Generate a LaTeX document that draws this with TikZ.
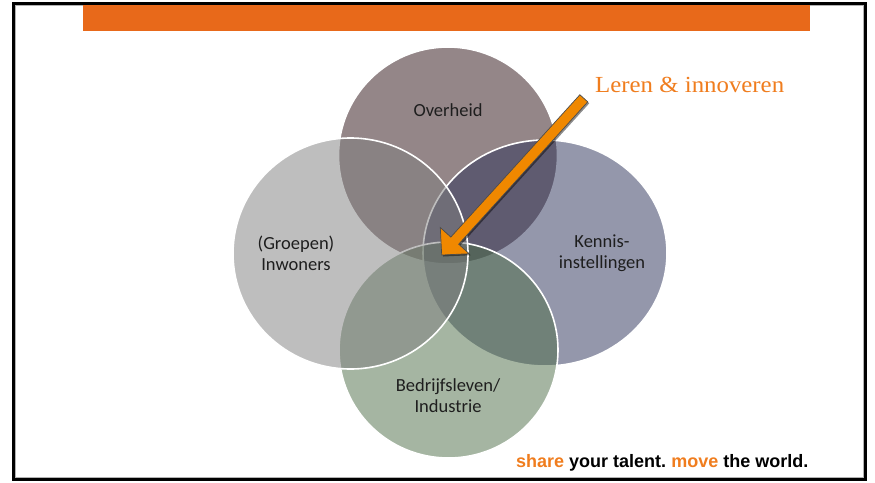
\documentclass[tikz,border=0pt]{standalone}
\usepackage{fontspec}
\setmainfont{Carlito}
\newfontfamily\serifx[FakeStretch=1.08]{Liberation Serif}
\newfontfamily\sansx{Liberation Sans}
\usetikzlibrary{calc,shapes.geometric}
\definecolor{barorange}{RGB}{232,105,26}
\definecolor{txtorange}{RGB}{240,125,30}
\definecolor{arroworange}{RGB}{240,136,0}
\definecolor{ovcol}{RGB}{43,15,19}
\definecolor{incol}{RGB}{127,127,127}
\definecolor{kecol}{RGB}{43,49,89}
\definecolor{becol}{RGB}{77,109,71}
\definecolor{labtxt}{RGB}{30,30,30}
\tikzset{
  venn/.style={ellipse, draw=white, line width=1.6pt, fill opacity=0.5, draw opacity=1, inner sep=0pt, outer sep=0pt},
  lab/.style={text=labtxt, font=\fontsize{18.5}{21}\selectfont, align=center},
}
\begin{document}
\frenchspacing
\begin{tikzpicture}[x=1pt,y=-1pt]
\useasboundingbox (0,0) rectangle (875,482);
\fill[white] (0,0) rectangle (875,482);
% frame
\draw[gray!60, line width=1pt] (15.5,5.5) rectangle (863.5,477.5);
\draw[black, line width=3pt] (13.5,3.5) rectangle (865.5,479.5);
% orange bar
\fill[barorange] (83,5) rectangle (810,31);
% venn circles
\node[venn, fill=ovcol, minimum width=219pt, minimum height=217pt] (ov) at (448,155.5) {};
\node[venn, fill=kecol, minimum width=244pt, minimum height=226pt] (ke) at (545,253) {};
\node[venn, fill=becol, minimum width=219pt, minimum height=216pt] (be) at (448.5,350) {};
\node[venn, fill=incol, minimum width=235pt, minimum height=231pt] (in) at (350.5,253.5) {};
% labels
\node[lab] (tov) at (448,110) {Overheid};
\node[lab] (tin) at (296,253) {(Groepen)\\Inwoners};
\node[lab] (tke) at (602,253) {Kennis-\\instellingen};
\node[lab] (tbe) at (448,395.5) {Bedrijfsleven/\\Industrie};
\node[text=txtorange, font=\serifx\fontsize{23}{26}\selectfont, anchor=base west, inner sep=0pt] (leren) at (595,92) {Leren \& innoveren};
% arrow
\coordinate (tip) at (441.7,255);
\coordinate (tail) at (583.8,98.3);
\coordinate (hb) at ($(tip)!19.4pt!(tail)$);
\coordinate (a1) at ($(hb)!19.5pt!90:(tail)$);
\coordinate (a2) at ($(hb)!5.3pt!90:(tail)$);
\coordinate (a3) at ($(tail)!5.3pt!-90:(hb)$);
\coordinate (a4) at ($(tail)!5.3pt!90:(hb)$);
\coordinate (a5) at ($(hb)!5.3pt!-90:(tail)$);
\coordinate (a6) at ($(hb)!19.5pt!-90:(tail)$);
\fill[black, opacity=0.45] ($(tip)+(1.5,1.5)$) -- ($(a1)+(1.5,1.5)$) -- ($(a2)+(1.5,1.5)$) -- ($(a3)+(1.5,1.5)$) -- ($(a4)+(1.5,1.5)$) -- ($(a5)+(1.5,1.5)$) -- ($(a6)+(1.5,1.5)$) -- cycle;
\draw[fill=arroworange, draw=black!70, line width=0.7pt, line join=miter] (tip) -- (a1) -- (a2) -- (a3) -- (a4) -- (a5) -- (a6) -- cycle;
% footer
\node[anchor=base west, font=\sansx\bfseries\fontsize{18}{20}\selectfont, inner sep=0pt] (foot) at (516,467) {\textcolor{txtorange}{share} your talent. \textcolor{txtorange}{move} the world.};
\end{tikzpicture}
\end{document}
